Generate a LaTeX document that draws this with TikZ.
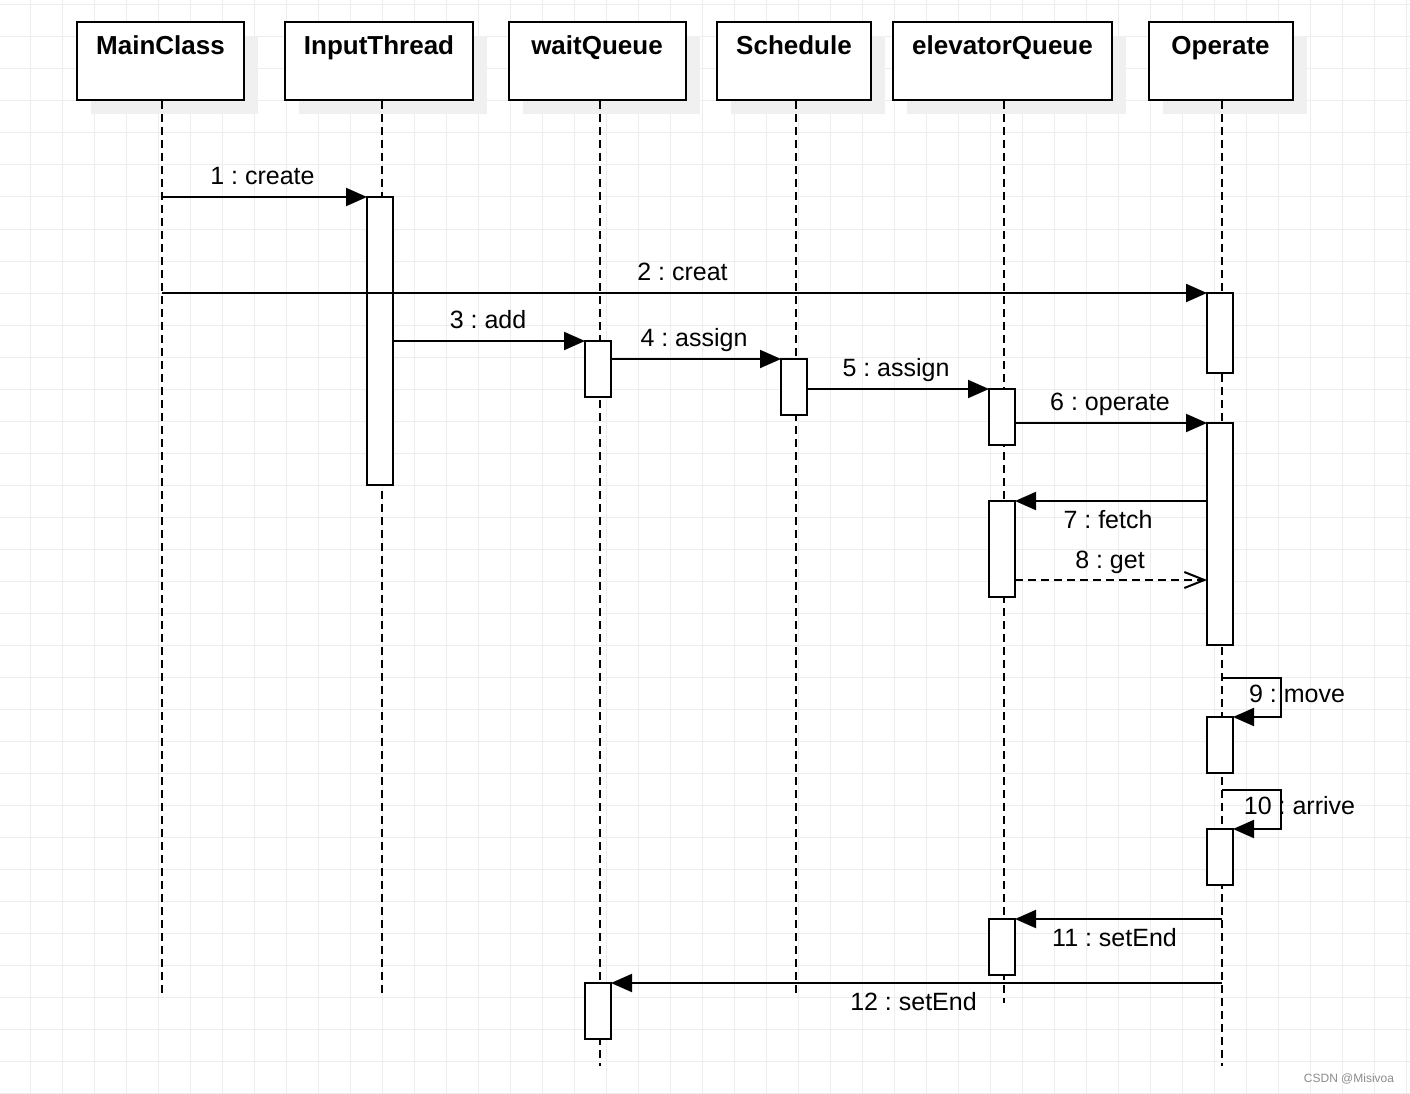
\documentclass[tikz,border=0pt]{standalone}
\usepackage{fontspec}
\setmainfont{Liberation Sans}
\usetikzlibrary{arrows.meta,shadows,calc}
\frenchspacing

\begin{document}
\begin{tikzpicture}[x=1pt,y=-1pt,
gridline/.style={draw=black!7,line width=1pt},
head/.style={draw,fill=white,line width=2pt,anchor=north,minimum height=78pt,inner ysep=0pt,text height=19pt,text depth=31pt,font=\fontsize{26}{30}\selectfont\bfseries,drop shadow={shadow xshift=14pt,shadow yshift=-14pt,fill=black!6,opacity=1}},
bar/.style={draw,fill=white,line width=2pt,anchor=north,minimum width=26pt,inner sep=0pt,outer sep=0pt},
life/.style={line width=2pt,dash pattern=on 8pt off 5pt},
msg/.style={line width=2pt,-{Triangle[length=21pt,width=18pt]}},
ret/.style={line width=2pt,dash pattern=on 8pt off 5pt,-{Straight Barb[length=20pt,width=16pt]}},
lbl/.style={font=\fontsize{25}{30}\selectfont,inner sep=0pt,text height=18pt,text depth=0pt}]
\useasboundingbox[fill=white] (0,0) rectangle (1410,1094);
\foreach \gx in {30,62,...,1406} \draw[gridline] (\gx,0) -- (\gx,1094);
\foreach \gy in {5,37,...,1093} \draw[gridline] (0,\gy) -- (1410,\gy);

\node[head,minimum width=167pt] (mc) at (160.5,21) {MainClass};
\node[head,minimum width=188pt] (it) at (379,21) {InputThread};
\node[head,minimum width=177pt] (wq) at (597,21) {waitQueue};
\node[head,minimum width=154pt] (sc) at (794,21) {Schedule};
\node[head,minimum width=219pt] (eq) at (1002.5,21) {elevatorQueue};
\node[head,minimum width=144pt] (op) at (1220.5,21) {Operate};

\coordinate (mc-e) at (162,995);
\coordinate (it-e) at (382,995);
\coordinate (wq-e) at (600,1066);
\coordinate (sc-e) at (796,995);
\coordinate (eq-e) at (1004,1003);
\coordinate (op-e) at (1222,1066);
\path[life]
(mc-e |- mc.south) edge (mc-e)
(it-e |- it.south) edge (it-e)
(wq-e |- wq.south) edge (wq-e)
(sc-e |- sc.south) edge (sc-e)
(eq-e |- eq.south) edge (eq-e)
(op-e |- op.south) edge (op-e)
;

\node[bar,minimum height=288pt] (it1) at (380,197) {};
\node[bar,minimum height=56pt] (wq1) at (598,341) {};
\node[bar,minimum height=56pt] (wq2) at (598,983) {};
\node[bar,minimum height=56pt] (sc1) at (794,359) {};
\node[bar,minimum height=56pt] (eq1) at (1002,389) {};
\node[bar,minimum height=96pt] (eq2) at (1002,501) {};
\node[bar,minimum height=56pt] (eq3) at (1002,919) {};
\node[bar,minimum height=80pt] (op1) at (1220,293) {};
\node[bar,minimum height=222pt] (op2) at (1220,423) {};
\node[bar,minimum height=56pt] (op3) at (1220,717) {};
\node[bar,minimum height=56pt] (op4) at (1220,829) {};

\coordinate (m1) at (162,197);
\coordinate (m2) at (162,293);
\coordinate (m8) at (1002,580);
\coordinate (m9) at (1222,678);
\coordinate (m10) at (1222,790);
\coordinate (m11) at (1222,919);
\coordinate (m12) at (1222,983);
\path[msg]
(m1) edge node[lbl,pos=0.5,xshift=-2pt,yshift=21.5pt] {1 : create} (it1.north west)
(m2) edge node[lbl,pos=0.5,xshift=-2pt,yshift=21.5pt] {2 : creat} (op1.north west)
(wq1.north west -| it1.east) edge node[lbl,pos=0.5,xshift=-1pt,yshift=21.5pt] {3 : add} (wq1.north west)
(sc1.north west -| wq1.east) edge node[lbl,pos=0.5,xshift=-2pt,yshift=21.5pt] {4 : assign} (sc1.north west)
(eq1.north west -| sc1.east) edge node[lbl,pos=0.5,xshift=-2pt,yshift=21.5pt] {5 : assign} (eq1.north west)
(op2.north west -| eq1.east) edge node[lbl,pos=0.5,xshift=-1pt,yshift=21.5pt] {6 : operate} (op2.north west)
(op2.west |- eq2.north) edge node[lbl,pos=0.5,xshift=-3pt,yshift=-18pt] {7 : fetch} (eq2.north east)
(m11) edge node[lbl,pos=0.5,xshift=-4pt,yshift=-18pt] {11 : setEnd} (eq3.north east)
(m12) edge node[lbl,pos=0.5,xshift=-3pt,yshift=-18pt] {12 : setEnd} (wq2.north east)
;
\path[ret]
(eq2.east |- m8) edge node[lbl,pos=0.5,xshift=-1pt,yshift=21pt] {8 : get} (op2.west |- m8)
;
\draw[msg] (m9) -- ++(59,0) |- (op3.north east);
\draw[msg] (m10) -- ++(59,0) |- (op4.north east);
\node[lbl] (l9) at (1297,693.5) {9 : move};
\node[lbl] (l10) at (1299.5,805.5) {10 : arrive};

\node[font=\fontsize{12}{14}\selectfont,text=black!45,inner sep=0pt] (mark) at (1349,1079) {CSDN @Misivoa};
\end{tikzpicture}
\end{document}
